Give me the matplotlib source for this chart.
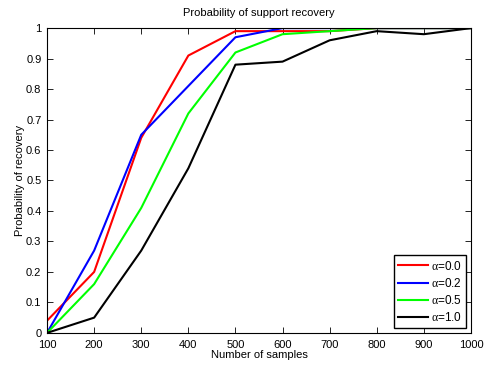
import numpy as np
import matplotlib
matplotlib.use('Agg')
import matplotlib.pyplot as plt

plt.rcParams['font.family'] = ['Liberation Sans', 'DejaVu Sans']
plt.rcParams['font.size'] = 8
plt.rcParams['mathtext.fontset'] = 'custom'
plt.rcParams['mathtext.rm'] = 'Liberation Serif'
plt.rcParams['mathtext.it'] = 'Liberation Serif'

samples = [100, 200, 300, 400, 500, 600, 700, 800, 900, 1000]
alpha_labels = ['0.0', '0.2', '0.5', '1.0']
rec_a00 = [0.04, 0.20, 0.64, 0.91, 0.99, 0.99, 0.99, 1.00, 1.00, 1.00]
rec_a02 = [0.00, 0.27, 0.65, 0.81, 0.97, 1.00, 1.00, 1.00, 1.00, 1.00]
rec_a05 = [0.00, 0.16, 0.41, 0.72, 0.92, 0.98, 0.99, 1.00, 1.00, 1.00]
rec_a10 = [0.00, 0.05, 0.27, 0.54, 0.88, 0.89, 0.96, 0.99, 0.98, 1.00]
colors = ['#ff0000', '#0000ff', '#00ff00', '#000000']

fig = plt.figure(figsize=(4.85, 3.65), dpi=100)
ax = fig.add_axes([0.097, 0.088, 0.874, 0.835])

for vals, lab, c in zip([rec_a00, rec_a02, rec_a05, rec_a10], alpha_labels, colors):
    ax.plot(samples, vals, color=c, linewidth=1.5, label=r'$\alpha$=' + lab)

ax.set_xlim(100, 1000)
ax.set_ylim(0, 1)
ax.set_xticks(samples)
ax.set_yticks(np.arange(0, 1.01, 0.1))
ax.set_yticklabels(['0', '0.1', '0.2', '0.3', '0.4', '0.5', '0.6', '0.7', '0.8', '0.9', '1'])
ax.tick_params(direction='in', top=True, right=True, length=4, width=0.6, labelsize=8)
ax.tick_params(axis='x', pad=5)
ax.tick_params(axis='y', pad=4)
for s in ax.spines.values():
    s.set_linewidth(0.8)

ax.set_xlabel('Number of samples', labelpad=0)
ax.set_ylabel('Probability of recovery', labelpad=1)
ax.set_title('Probability of support recovery', fontsize=8, pad=9)

leg = ax.legend(loc='lower right', fancybox=False, edgecolor='black', framealpha=1,
                fontsize=8.5, handlelength=2.5, borderpad=0.35, labelspacing=0.35,
                handletextpad=0.3, borderaxespad=0.4)
leg.get_frame().set_linewidth(1.0)

plt.savefig('out.png', dpi=100)
